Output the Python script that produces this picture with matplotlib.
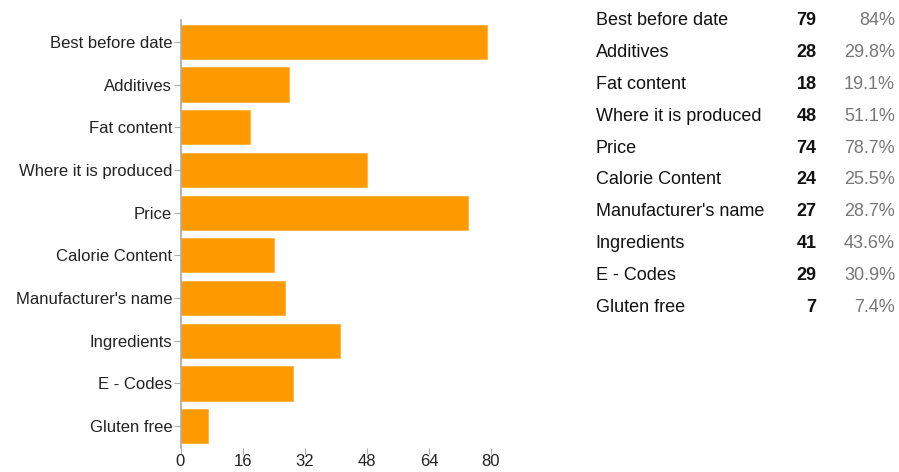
import matplotlib
matplotlib.use("Agg")
import matplotlib.pyplot as plt

plt.rcParams['font.family'] = ['Liberation Sans', 'DejaVu Sans']

categories = ["Best before date", "Additives", "Fat content", "Where it is produced",
              "Price", "Calorie Content", "Manufacturer's name", "Ingredients",
              "E - Codes", "Gluten free"]
counts = [79, 28, 18, 48, 74, 24, 27, 41, 29, 7]
percents = ["84%", "29.8%", "19.1%", "51.1%", "78.7%", "25.5%", "28.7%", "43.6%", "30.9%", "7.4%"]
xticks = [0, 16, 32, 48, 64, 80]

W, H = 899, 472
fig = plt.figure(figsize=(W / 100, H / 100), dpi=100)

left, right, top, bottom = 180.5, 491.0, 20.5, 447.5
ax = fig.add_axes([left / W, (H - bottom) / H, (right - left) / W, (bottom - top) / H])

n = len(categories)
ypos = list(range(n))
ax.barh(ypos, counts, height=0.8, color="#FF9900", edgecolor="#FFB040", linewidth=0.6)
ax.set_ylim(n - 0.5, -0.5)
ax.set_xlim(0, 80)
ax.set_yticks(ypos)
ax.set_yticklabels(categories, fontsize=12, color="#222222")
ax.set_xticks(xticks)
ax.set_xticklabels([str(t) for t in xticks], fontsize=12, color="#222222")
for s in ["top", "right", "bottom"]:
    ax.spines[s].set_visible(False)
ax.spines["left"].set_color("#AAAAAA")
ax.spines["left"].set_linewidth(1.2)
ax.tick_params(axis="y", length=5, color="#AAAAAA", pad=1)
ax.tick_params(axis="x", length=4, color="#AAAAAA", pad=1)

# Table on the right
row0, dy = 20.5, 31.9
for i, (c, v, p) in enumerate(zip(categories, counts, percents)):
    y = 1 - (row0 + i * dy) / H
    fig.text(595.5 / W, y, c, fontsize=13, color="#111111", ha="left", va="center")
    fig.text(816.5 / W, y, str(v), fontsize=13, color="#111111", ha="right", va="center",
             fontweight="bold")
    fig.text(895 / W, y, p, fontsize=13, color="#777777", ha="right", va="center")

fig.savefig("out.png", dpi=100)
